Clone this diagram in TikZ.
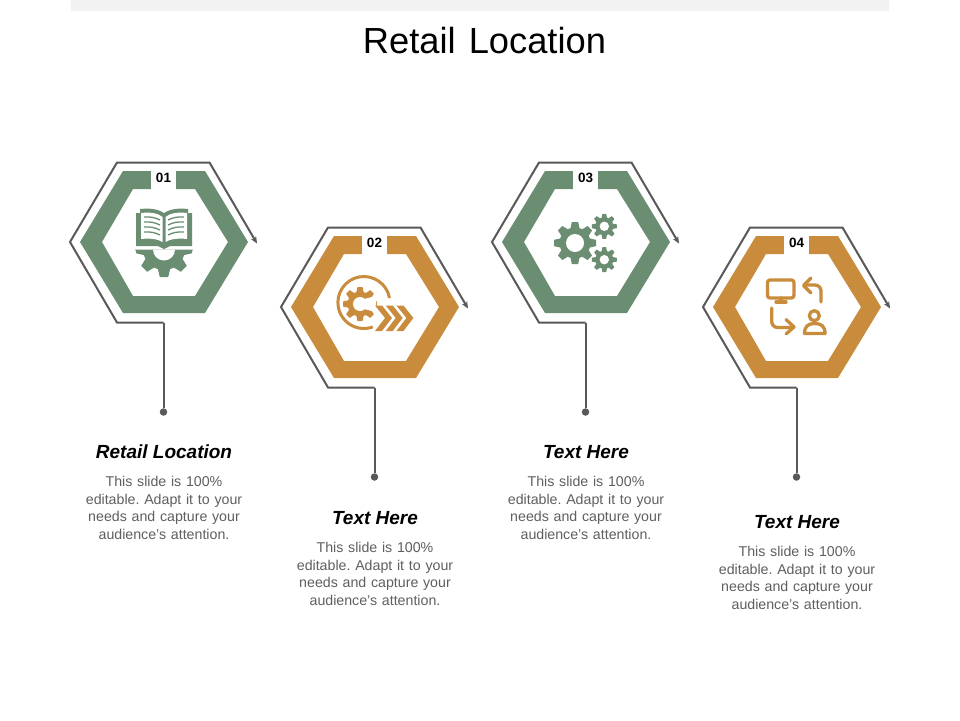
\documentclass[tikz,border=0pt]{standalone}
\usepackage{fontspec}
\setmainfont{Liberation Sans}
\frenchspacing
\usetikzlibrary{arrows.meta}
\definecolor{sage}{HTML}{6B8E73}
\definecolor{gold}{HTML}{C88C3C}
\definecolor{wire}{HTML}{595959}
\definecolor{bodytxt}{HTML}{5F5F5F}
\definecolor{topbar}{HTML}{F2F2F2}
\tikzset{
  x=1pt,y=-1pt,
  outline/.style={draw=wire,line width=2pt,line join=miter},
  enddot/.style={circle,fill=wire,minimum size=7.5pt,inner sep=0pt},
  numlabel/.style={font=\fontsize{13.5}{15}\selectfont\bfseries,text=black,inner sep=0pt},
  headlabel/.style={font=\fontsize{19}{21}\selectfont\bfseries\itshape,text=black,inner sep=0pt},
  bodylabel/.style={font=\fontsize{14.2}{17.7}\selectfont,text=bodytxt,align=center,text width=170pt,inner sep=0pt},
  istroke/.style={line width=3.3pt,line cap=round,line join=round,fill=none},
}
% gear: cx cy outer body hole teeth colour
\newcommand{\gearicon}[7]{%
  \fill[#7] (#1,#2) circle (#4);
  \foreach \ga in {1,...,#6}{%
    \fill[#7,shift={(#1,#2)},rotate=\ga*360/#6]
      (#4-1,-0.22*#3) -- (#3,-0.15*#3) -- (#3,0.15*#3) -- (#4-1,0.22*#3) -- cycle;
  }
  \fill[white] (#1,#2) circle (#5);
}
% hexagon block in the coordinates of the first one
\newcommand{\hexblock}[5]{%
\begin{scope}[shift={(#2,#3)}]
  \fill[#4,even odd rule] (80,242) -- (123,171) -- (205,171) -- (248,242) -- (205,313) -- (123,313) -- cycle
     (102,242) -- (133,189) -- (195,189) -- (228,242) -- (195,296) -- (133,296) -- cycle;
  \fill[white] (151,169) rectangle (176,190);
  \node[numlabel] (num#1) at (163.5,178) {#5};
  \node[enddot] (dot#1) at (163.5,412) {};
  \coordinate (tail#1) at (163.5,322.5);
  \coordinate (tip#1) at (257,243.5);
  \draw[outline,-{Stealth[length=7pt,width=6pt]}] (tail#1) -- (117,322.5) -- (70,242) -- (117,162.5) -- (209.5,162.5) -- (tip#1);
  \draw[outline] (tail#1) -- (dot#1);
\end{scope}}
\begin{document}
\begin{tikzpicture}
\useasboundingbox (0,0) rectangle (960,720);
\fill[white] (0,0) rectangle (960,720);
\fill[topbar] (71,0) rectangle (889,11);
\node[inner sep=0pt,font=\fontsize{36.3}{40}\selectfont,text=black] (title) at (484.5,40.5) {Retail\hspace{3pt} Location};

\hexblock{1}{0}{0}{sage}{01}
\hexblock{2}{211}{65}{gold}{02}
\hexblock{3}{422}{0}{sage}{03}
\hexblock{4}{633}{65}{gold}{04}

% book with half gear
\fill[sage] (136,213) -- (140,213) -- (140,209) .. controls (150,208) and (158,209) .. (164,213) .. controls (170,209) and (178,208) .. (188,209) -- (188,213) -- (192,213) -- (192,246) -- (170,246) -- (164,249) -- (158,246) -- (136,246) -- cycle;
\fill[white] (141,213) .. controls (150,212) and (158,213) .. (162.5,217) -- (162.5,242) .. controls (158,239) and (150,238) .. (141,239) -- cycle;
\fill[white] (187,213) .. controls (178,212) and (170,213) .. (165.5,217) -- (165.5,242) .. controls (170,239) and (178,238) .. (187,239) -- cycle;
\foreach \yy in {217,222,227,232}{
  \draw[sage,line width=1.3pt] (144,\yy) .. controls (150,\yy-0.5) and (155,\yy+0.5) .. (160,\yy+3);
  \draw[sage,line width=1.3pt] (184,\yy) .. controls (178,\yy-0.5) and (173,\yy+0.5) .. (168,\yy+3);
}
\begin{scope}
  \clip (130,250) rectangle (198,282);
  \gearicon{164}{249}{28}{21}{11}{8}{sage}
\end{scope}
\fill[sage] (135,249.5) -- (193,249.5) -- (191,253) -- (137,253) -- cycle;
\fill[white] (153,249.5) arc[start angle=180,end angle=0,radius=11] -- cycle;

% gears 03
\gearicon{575}{243}{21}{15.5}{9}{8}{sage}
\gearicon{604.3}{226.3}{12.5}{9}{4.7}{8}{sage}
\gearicon{604.3}{259.7}{12.5}{9}{4.7}{8}{sage}

% icon 02
\draw[gold,line width=3pt] (389.5,298) arc[start angle=-10,end angle=-290,radius=26];
\gearicon{360}{304}{17}{12.5}{7}{8}{gold}
\fill[white] (360,300) -- (376,296) -- (376,312) -- (360,308) -- cycle;
\foreach \xo in {375,385.7,396.4}{
  \fill[gold] (\xo,305.5) -- (\xo+7,305.5) -- (\xo+17,318) -- (\xo+7,331) -- (\xo,331) -- (\xo+10,318) -- cycle;
}

% icon 04
\draw[gold,istroke,rounded corners=2.5pt] (767.5,280) rectangle (794,298);
\draw[gold,istroke] (781,298) -- (781,302) (776,302) -- (786,302);
\draw[gold,istroke,rounded corners=6pt] (821,302) -- (821,285) -- (805,285);
\draw[gold,istroke] (811,278) -- (803.5,285.5) -- (811,293);
\draw[gold,istroke,rounded corners=6pt] (771.7,308) -- (771.7,327.5) -- (793,327.5);
\draw[gold,istroke] (786,319.5) -- (794,327) -- (786,334);
\draw[gold,istroke] (814.3,315.7) circle (5);
\draw[gold,istroke] (804.5,333.5) -- (825,333.5) .. controls (825,326) and (821,323.5) .. (814.8,323.5) .. controls (808.5,323.5) and (804.5,326) .. (804.5,333.5) -- cycle;

% texts
\node[headlabel] (h1) at (164,452) {Retail Location};
\node[headlabel] (h2) at (375,518) {Text Here};
\node[headlabel] (h3) at (586,452) {Text Here};
\node[headlabel] (h4) at (797,522) {Text Here};
\node[bodylabel] (b1) at (164,508) {This slide is 100\%\\editable. Adapt it to your\\needs and capture your\\audience's attention.};
\node[bodylabel] (b2) at (375,574) {This slide is 100\%\\editable. Adapt it to your\\needs and capture your\\audience's attention.};
\node[bodylabel] (b3) at (586,508) {This slide is 100\%\\editable. Adapt it to your\\needs and capture your\\audience's attention.};
\node[bodylabel] (b4) at (797,578) {This slide is 100\%\\editable. Adapt it to your\\needs and capture your\\audience's attention.};
\end{tikzpicture}
\end{document}
